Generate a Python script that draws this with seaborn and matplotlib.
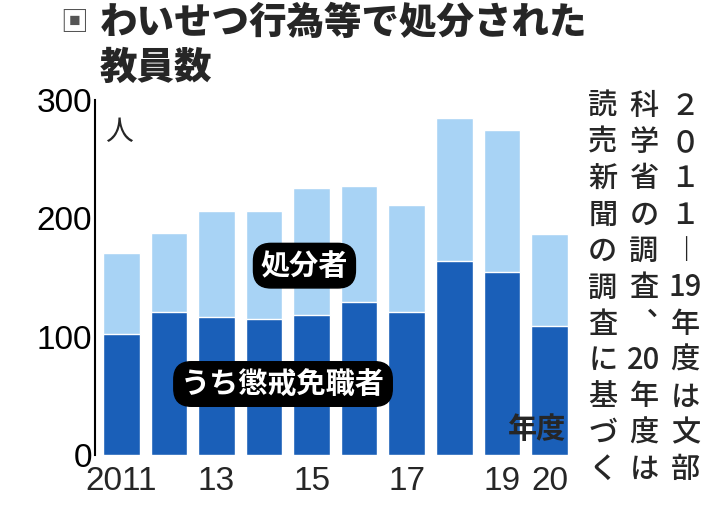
import matplotlib
matplotlib.use("Agg")
import matplotlib.pyplot as plt
import seaborn as sns
import pandas as pd

years = ["2011","2012","2013","2014","2015","2016","2017","2018","2019","2020"]
total = [171, 188, 206, 206, 226, 227, 211, 285, 275, 187]
dismissed = [102, 121, 117, 115, 118, 129, 121, 164, 155, 109]
xlabels = ["2011","","13","","15","","17","","19","20"]

sns.set_style("white")
plt.rcParams['font.family'] = ['Noto Sans CJK JP', 'DejaVu Sans']

df = pd.DataFrame({"year": years, "total": total, "dismissed": dismissed})
fig = plt.figure(figsize=(7.10, 5.05), dpi=100)
ax = fig.add_axes([0.134, 0.099, 0.67, 0.703])
sns.barplot(data=df, x="year", y="total", color="#a8d3f5", width=0.77, saturation=1, ax=ax)
sns.barplot(data=df, x="year", y="dismissed", color="#1a5fb8", width=0.77, saturation=1, ax=ax)
ax.set_ylim(0, 300)
ax.set_xlim(-0.55, 9.45)
ax.set_yticks([0, 100, 200, 300])
ax.set_yticklabels(["0", "100", "200", "300"], fontsize=24, family="Liberation Sans", stretch="condensed")
ax.set_xticks(range(10))
ax.set_xticklabels(xlabels, fontsize=24, family="Liberation Sans")
ax.set_xlabel(""); ax.set_ylabel("")
for s in ["top", "right", "bottom"]:
    ax.spines[s].set_visible(False)
ax.spines["left"].set_color("black"); ax.spines["left"].set_linewidth(1.5)
ax.tick_params(axis="y", length=8, width=1.5, direction="in", pad=2, colors="black")
ax.tick_params(axis="x", length=0, pad=8)

ax.text(0.02, 0.91, "人", transform=ax.transAxes, fontsize=20, ha="left", va="center")
ax.text(8.75, 22, "年度", fontsize=21, ha="center", va="center", weight="bold")
box = dict(boxstyle="round,pad=0.25,rounding_size=0.6", fc="black", ec="black")
ax.text(3.85, 160, "処分者", fontsize=21, ha="center", va="center", color="white", weight="bold", bbox=box)
ax.text(3.4, 60, "うち懲戒免職者", fontsize=21, ha="center", va="center", color="white", weight="bold", bbox=box)

fig.text(0.085, 0.955, "▣", fontsize=20, ha="left", va="center", color="#555555")
fig.text(0.14, 0.955, "わいせつ行為等で処分された", fontsize=27, ha="left", va="center", weight="heavy")
fig.text(0.14, 0.865, "教員数", fontsize=27, ha="left", va="center", weight="heavy")

cols = ["２０１１～19年度は文部", "科学省の調査、20年度は", "読売新聞の調査に基づく"]
xs = [0.965, 0.907, 0.849]
for c, x in zip(cols, xs):
    chars = []
    i = 0
    while i < len(c):
        if c[i:i+2] in ("19", "20") and i > 3:
            chars.append(c[i:i+2]); i += 2
        else:
            chars.append(c[i]); i += 1
    y = 0.79
    step = 0.745 / (len(chars) - 1) if len(chars) > 1 else 0
    step = min(step, 0.072)
    for ch in chars:
        t = "︱" if ch == "～" else ("︑" if ch == "、" else ch)
        fig.text(x, y, t, fontsize=21, ha="center", va="center", weight="medium")
        y -= step
fig.savefig("out.png", dpi=100)
